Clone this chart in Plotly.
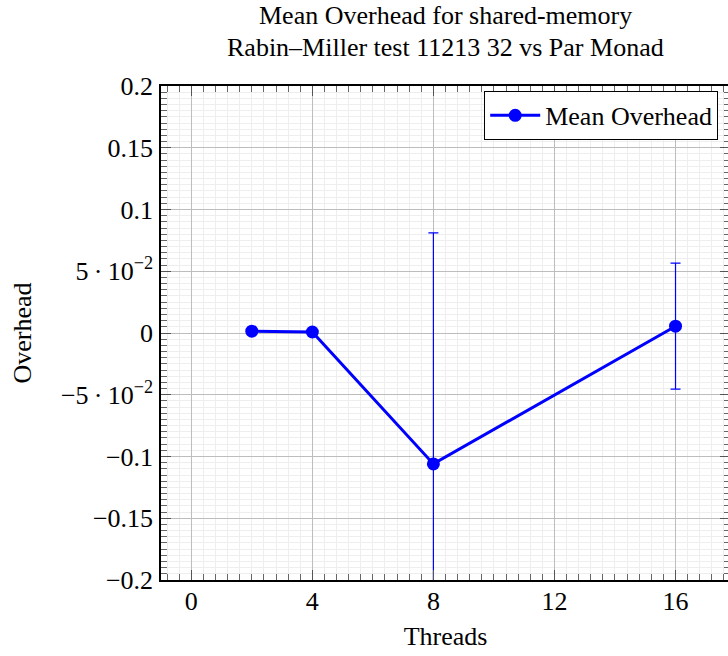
import plotly.graph_objects as go

threads = [2, 4, 8, 16]
mean_overhead = [0.0015, 0.0008, -0.106, 0.0055]
error = [0.0, 0.0, 0.187, 0.051]

y_tickvals = [0.2, 0.15, 0.1, 0.05, 0, -0.05, -0.1, -0.15, -0.2]
y_ticktext = ["0.2", "0.15", "0.1", "5\u2009\u00b7\u200910<sup>\u22122</sup>", "0",
              "\u22125\u2009\u00b7\u200910<sup>\u22122</sup>", "\u22120.1", "\u22120.15", "\u22120.2"]
x_tickvals = [0, 4, 8, 12, 16]
x_ticktext = ["0", "4", "8", "12", "16"]

FONT = "Liberation Serif"
BLUE = "#0000ff"
FS = 26

fig = go.Figure()
fig.add_trace(go.Scatter(
    x=threads, y=mean_overhead, mode="lines+markers", name="Mean Overhead",
    line=dict(color=BLUE, width=3),
    marker=dict(color=BLUE, size=13),
    error_y=dict(type="data", array=error, visible=True, color=BLUE, thickness=1.2, width=5),
    cliponaxis=True,
))

axis_common = dict(
    showline=True, linecolor="black", linewidth=1.5, mirror="allticks",
    ticks="inside", tickcolor="#555555", ticklen=10, tickwidth=1,
    showgrid=True, gridcolor="#bdbdbd", gridwidth=1, zeroline=False,
    tickfont=dict(family=FONT, size=FS, color="black"),
    automargin=False,
)

fig.update_xaxes(
    range=[-1, 17.8], tickvals=x_tickvals, ticktext=x_ticktext,
    minor=dict(dtick=0.4, ticks="inside", ticklen=6, tickcolor="#666666",
               showgrid=True, gridcolor="#eeeeee", gridwidth=1),
    title=dict(text="Threads", font=dict(family=FONT, size=FS, color="black"), standoff=12),
    ticklabelstandoff=-3,
    **axis_common,
)
fig.update_yaxes(
    range=[-0.2, 0.2], tickvals=y_tickvals, ticktext=y_ticktext,
    minor=dict(dtick=0.005, ticks="inside", ticklen=6, tickcolor="#666666",
               showgrid=True, gridcolor="#eeeeee", gridwidth=1),
    title=dict(text="Overhead", font=dict(family=FONT, size=FS, color="black"), standoff=22),
    ticklabelstandoff=1,
    **axis_common,
)

fig.add_annotation(text="Mean Overhead for shared-memory", xref="paper", yref="paper",
                   x=0.5, y=1, yshift=71, xanchor="center", yanchor="middle", showarrow=False,
                   font=dict(family=FONT, size=FS, color="black"))
fig.add_annotation(text="Rabin\u2013Miller test 11213 32 vs Par Monad", xref="paper", yref="paper",
                   x=0.5, y=1, yshift=39, xanchor="center", yanchor="middle", showarrow=False,
                   font=dict(family=FONT, size=FS, color="black"))

fig.update_layout(
    width=745, height=656,
    margin=dict(l=161, r=15, t=86, b=76),
    plot_bgcolor="white", paper_bgcolor="white",
    showlegend=True,
    legend=dict(x=0.568, y=0.99, xanchor="left", yanchor="top",
                bordercolor="black", borderwidth=1, bgcolor="white",
                itemwidth=50,
                font=dict(family=FONT, size=FS, color="black")),
)

fig.write_html("out.html", config={"displayModeBar": False},
               post_script="document.body.style.margin='0px';document.body.style.overflow='hidden';")
